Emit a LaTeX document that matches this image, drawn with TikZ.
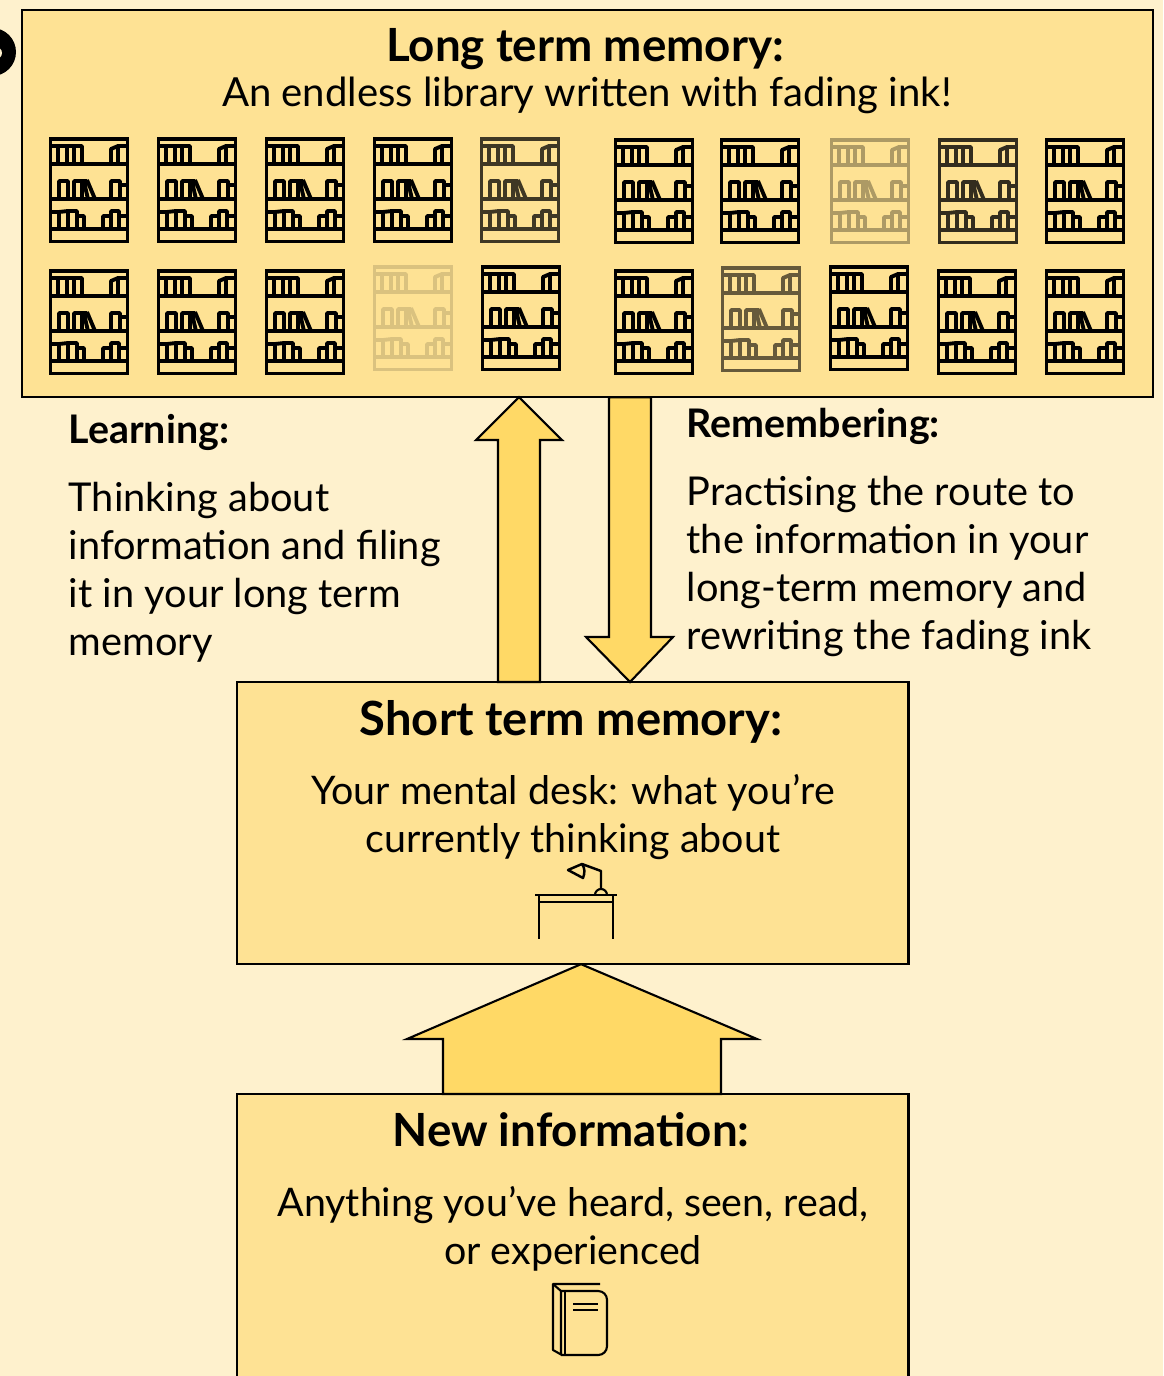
\documentclass[tikz,border=0pt]{standalone}
\usepackage{fontspec}
\setmainfont{Lato}
\definecolor{pagebg}{HTML}{FEF1CD}
\definecolor{boxfill}{HTML}{FEE294}
\definecolor{arrowfill}{HTML}{FFD966}
\tikzset{
  panel/.style={draw=black,fill=boxfill,line width=0.65pt,inner sep=0pt,outer sep=0pt,anchor=north west},
  flow/.style={draw=black,fill=arrowfill,line width=0.6pt,line join=miter},
  head/.style={font=\fontsize{13}{15}\selectfont\bfseries,inner sep=0pt,anchor=base},
  sub/.style={font=\fontsize{11.2}{13.6}\selectfont,inner sep=0pt,align=center},
  para/.style={font=\fontsize{11.3}{13.6}\selectfont,inner sep=0pt,align=left,anchor=north west},
  label/.style={font=\fontsize{11.2}{13.6}\selectfont\bfseries,inner sep=0pt,anchor=base west},
  icon/.style={draw=black,line width=0.6pt},
  pics/shelf/.style={code={
    \draw[draw=ink,line width=1pt] (0.5,1) rectangle (77.5,103.5);
    \draw[draw=ink,line width=1.25pt] (1,26) -- (76,26) (1,61) -- (76,61) (1,91) -- (76,91);
    \draw[draw=ink,line width=1.1pt,line join=round]
      (1,8)--(8,8)--(8,26) (8,8)--(32,8)--(32,26) (17,8)--(17,26) (24,8)--(24,26)
      (61,26)--(61,11)--(68,8)--(76,8) (68,8)--(68,26)
      (9,61)--(9,43)--(18,43)--(18,61) (24,61)--(24,43)--(37,43) (32,43)--(32,61)
      (37,42)--(45,61) (34,44)--(38,61)
      (61,61)--(61,43)--(70,43)--(70,61) (70,47)--(76,47)
      (1,74)--(9,74)--(9,91) (9,74)--(18,73)--(27,73)--(27,91) (18,73)--(18,91) (27,78)--(34,78)--(34,91)
      (53,91)--(53,78)--(61,78)--(61,91) (61,78)--(61,73)--(69,73)--(69,91) (69,78)--(76,78);
  }}
}
\begin{document}
\begin{tikzpicture}[x=0.01cm,y=-0.01cm]
\path[fill=pagebg,use as bounding box] (0,0) rectangle (1163,1376);
\begin{scope}
\clip (0,0) rectangle (1163,1376);
% panels
\node[panel,minimum width=11.30cm,minimum height=3.87cm] (ltm) at (22,10) {};
\node[panel,minimum width=6.71cm,minimum height=2.82cm] (stm) at (237,682) {};
\node[panel,minimum width=6.71cm,minimum height=3.40cm] (new) at (237,1094) {};
% arrows between panels
\draw[flow] (519,0 |- ltm.south) -- (562,440) -- (540,440) -- (540,0 |- stm.north) -- (498,0 |- stm.north) -- (498,440) -- (476,440) -- cycle;
\draw[flow] (609,0 |- ltm.south) -- (651,0 |- ltm.south) -- (651,637) -- (673,637) -- (630,0 |- stm.north) -- (586,637) -- (609,637) -- cycle;
\draw[flow] (581,0 |- stm.south) -- (757,1039) -- (721,1039) -- (721,0 |- new.north) -- (443,0 |- new.north) -- (443,1039) -- (407,1039) -- cycle;
\end{scope}
% cut-off black disc
\begin{scope}
\clip (0,0) rectangle (1163,1376);
\fill[black] (-8,52) circle (24);
\fill[pagebg] (-4,53) circle (6);
\end{scope}
% shelves
\foreach \sx/\sy/\op in {
 50/138/100,158/138/100,266/138/100,374/138/100,481/138/75,
 615/139/100,721/139/100,831/139/32,939/139/80,1046/139/100,
 50/270/100,158/270/100,266/270/100,374/266/14,482/266/100,
 615/270/100,722/267/60,830/266/100,938/270/100,1046/270/100}{
  \colorlet{ink}{black!\op!boxfill}
  \pic at (\sx,\sy) {shelf};
}
% text
\node[head] (t1) at (585,62) {Long term memory:};
\node[sub,font=\fontsize{11.4}{13.6}\selectfont,anchor=base] (t2) at (587,107) {An endless library written with fading ink!};
\node[label] (l1) at (68,443) {Learning:};
\node[para] (l2) at (68,482) {Thinking about\\information and filing\\it in your long term\\memory};
\node[label] (r1) at (686,437) {Remembering:};
\node[para] (r2) at (686,476) {Practising the route to\\the information in your\\long-term memory and\\rewriting the fading ink};
\node[head,font=\fontsize{13.4}{15}\selectfont\bfseries] (s1) at (571,735) {Short term memory:};
\node[sub] (s2) at (573,817) {Your mental desk: what you’re\\currently thinking about};
\node[head] (n1) at (571,1146) {New information:};
\node[sub] (n2) at (573,1229) {Anything you’ve heard, seen, read,\\or experienced};
% desk
\draw[icon,line width=0.75pt] (535,895) -- (617,895);
\draw[icon,line width=0.7pt] (539,895) -- (539,939) (613,895) -- (613,939) (539,902) -- (613,902);
\draw[icon] (595,895) arc[start angle=180,end angle=360,radius=6];
\draw[icon,line width=0.7pt,line join=round] (601,889) -- (601,871) -- (582,864);
\draw[icon,line width=0.7pt,line join=round] (568,870) -- (582,864) .. controls (585,868) and (585,873) .. (583,878) -- cycle;
% book
\draw[icon,line join=round] (600,1284) -- (553,1284) -- (553,1350) -- (562,1355);
\draw[icon] (553,1284) -- (561,1291) -- (561,1355);
\draw[icon,rounded corners=2.5] (561,1291) -- (607,1291) -- (607,1355) -- (561,1355);
\draw[icon] (565,1291) -- (565,1355) (573,1304) -- (598,1304) (573,1310) -- (598,1310);
\end{tikzpicture}
\end{document}
